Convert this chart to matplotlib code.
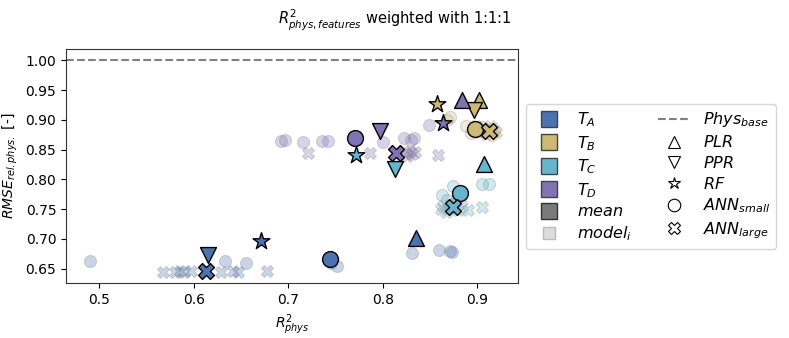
import matplotlib
matplotlib.use("Agg")
import matplotlib.pyplot as plt
from matplotlib.lines import Line2D

# Targets and their colours
targets = ["A", "B", "C", "D"]
colors = ["#4C72B0", "#CCB974", "#64B5CD", "#8172B3"]

# Model types (order of the mean arrays below)
models = ["PLR", "PPR", "RF", "ANN_small", "ANN_large"]
markers = ["^", "v", "*", "o", "X"]
model_labels = ["$PLR$", "$PPR$", "$RF$", "$ANN_{small}$", "$ANN_{large}$"]

# Mean results per target: [PLR, PPR, RF, ANN_small, ANN_large]
mean_x_A = [0.835, 0.615, 0.671, 0.744, 0.613]
mean_y_A = [0.702, 0.673, 0.696, 0.667, 0.646]
mean_x_B = [0.902, 0.896, 0.857, 0.897, 0.912]
mean_y_B = [0.934, 0.917, 0.927, 0.885, 0.882]
mean_x_C = [0.907, 0.813, 0.772, 0.882, 0.874]
mean_y_C = [0.826, 0.818, 0.841, 0.777, 0.754]
mean_x_D = [0.884, 0.797, 0.864, 0.771, 0.814]
mean_y_D = [0.934, 0.882, 0.895, 0.870, 0.845]

# Individual models (ANN_small circles, ANN_large crosses)
small_x_A = [0.490, 0.633, 0.655, 0.745, 0.752, 0.831, 0.859, 0.871, 0.873]
small_y_A = [0.662, 0.662, 0.660, 0.660, 0.655, 0.676, 0.682, 0.679, 0.678]
large_x_A = [0.568, 0.580, 0.586, 0.590, 0.597, 0.629, 0.642, 0.647, 0.677]
large_y_A = [0.644, 0.645, 0.646, 0.645, 0.646, 0.645, 0.646, 0.645, 0.646]

small_x_B = [0.868, 0.871, 0.888, 0.893, 0.900, 0.905, 0.915, 0.918]
small_y_B = [0.900, 0.905, 0.890, 0.878, 0.882, 0.888, 0.875, 0.882]
large_x_B = [0.898, 0.902, 0.906, 0.909, 0.913, 0.916, 0.920]
large_y_B = [0.890, 0.880, 0.886, 0.877, 0.890, 0.885, 0.880]

small_x_C = [0.905, 0.912, 0.863, 0.874, 0.868, 0.878]
small_y_C = [0.793, 0.792, 0.773, 0.789, 0.765, 0.768]
large_x_C = [0.861, 0.864, 0.867, 0.870, 0.875, 0.879, 0.884, 0.890, 0.905]
large_y_C = [0.750, 0.756, 0.745, 0.752, 0.758, 0.748, 0.755, 0.749, 0.753]

small_x_D = [0.692, 0.697, 0.716, 0.736, 0.742, 0.800, 0.822, 0.830, 0.833, 0.849]
small_y_D = [0.865, 0.866, 0.862, 0.865, 0.865, 0.862, 0.869, 0.866, 0.869, 0.892]
large_x_D = [0.721, 0.786, 0.823, 0.826, 0.829, 0.831, 0.834, 0.858]
large_y_D = [0.845, 0.845, 0.845, 0.840, 0.848, 0.843, 0.846, 0.841]

phys_base = 1.0

mean_x = [mean_x_A, mean_x_B, mean_x_C, mean_x_D]
mean_y = [mean_y_A, mean_y_B, mean_y_C, mean_y_D]
small_x = [small_x_A, small_x_B, small_x_C, small_x_D]
small_y = [small_y_A, small_y_B, small_y_C, small_y_D]
large_x = [large_x_A, large_x_B, large_x_C, large_x_D]
large_y = [large_y_A, large_y_B, large_y_C, large_y_D]

fig = plt.figure(figsize=(7.89, 3.38), dpi=100)
ax = fig.add_axes([0.0837, 0.163, 0.573, 0.692])

ax.axhline(phys_base, color="grey", linestyle="--", linewidth=1.5, zorder=1)

# individual models first (light, in the background)
for i, c in enumerate(colors):
    ax.scatter(small_x[i], small_y[i], s=75, marker="o", color=c, alpha=0.3,
               edgecolors="grey", linewidths=0.8, zorder=2)
    ax.scatter(large_x[i], large_y[i], s=75, marker="X", color=c, alpha=0.3,
               edgecolors="grey", linewidths=0.8, zorder=2)

# means on top
for i, c in enumerate(colors):
    for j, m in enumerate(markers):
        size = 160 if m == "*" else 130
        ax.scatter(mean_x[i][j], mean_y[i][j], s=size, marker=m, color=c,
                   edgecolors="black", linewidths=1.0, zorder=3)

ax.set_xlim(0.465, 0.943)
ax.set_ylim(0.626, 1.019)
ax.set_xticks([0.5, 0.6, 0.7, 0.8, 0.9])
ax.set_yticks([0.65, 0.70, 0.75, 0.80, 0.85, 0.90, 0.95, 1.00])
ax.set_xlabel("$R^2_{phys}$", fontsize=10)
ax.set_ylabel("$RMSE_{rel. phys.}$ [-]", fontsize=10)
ax.tick_params(labelsize=10)
for sp in ax.spines.values():
    sp.set_color("#333333")

fig.suptitle("$R^2_{phys, features}$ weighted with 1:1:1", fontsize=10.5, y=0.978)

# legend
handles = []
labels = []
for t, c in zip(targets, colors):
    handles.append(Line2D([0], [0], linestyle="none", marker="s", markersize=11,
                          markerfacecolor=c, markeredgecolor="#444444"))
    labels.append("$T_%s$" % t)
handles.append(Line2D([0], [0], linestyle="none", marker="s", markersize=11,
                      markerfacecolor="#7a7a7a", markeredgecolor="#333333"))
labels.append("$mean$")
handles.append(Line2D([0], [0], linestyle="none", marker="s", markersize=8,
                      markerfacecolor="#dddddd", markeredgecolor="#bbbbbb"))
labels.append("$model_i$")

handles.append(Line2D([0], [0], color="grey", linestyle="--", linewidth=1.5))
labels.append("$Phys_{base}$")
for m, lab in zip(markers, model_labels):
    handles.append(Line2D([0], [0], linestyle="none", marker=m, markersize=9,
                          markerfacecolor="white", markeredgecolor="black",
                          markeredgewidth=0.8))
    labels.append(lab)

ax.legend(handles, labels, ncol=2, fontsize=11.5, loc="upper left",
          bbox_to_anchor=(1.018, 0.765), borderaxespad=0, labelspacing=0.3,
          columnspacing=1.6)

fig.savefig("out.png", dpi=100)
